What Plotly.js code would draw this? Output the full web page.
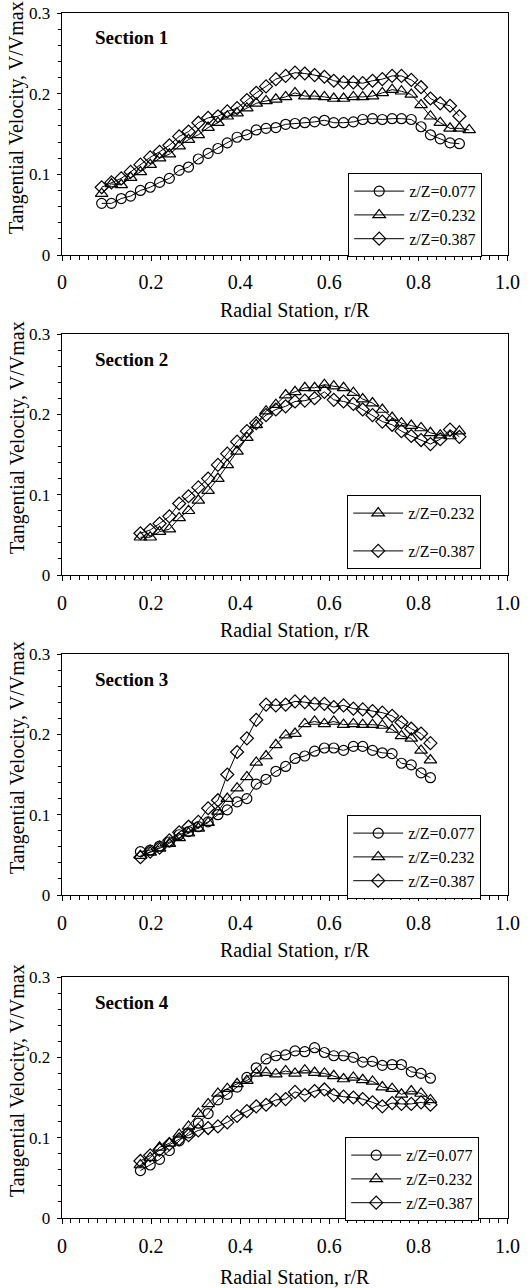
<!DOCTYPE html>
<html>
<head>
<meta charset="utf-8">
<script src="https://cdn.plot.ly/plotly-3.0.1.min.js"></script>
<style>html,body{margin:0;padding:0;background:#fff;}#chart{width:531px;height:1288px;}</style>
</head>
<body>
<div id="chart"></div>
<script>
// ---- data ----
const seriesNames = ["z/Z=0.077", "z/Z=0.232", "z/Z=0.387"];
const sectionLabels = ["Section 1", "Section 2", "Section 3", "Section 4"];
const xTickVals = [0, 0.2, 0.4, 0.6, 0.8, 1.0];
const xTickText = ["0", "0.2", "0.4", "0.6", "0.8", "1.0"];
const yTickVals = [0, 0.1, 0.2, 0.3];
const yTickText = ["0", "0.1", "0.2", "0.3"];

// radial stations r/R
const r_s1 = [0.089, 0.111, 0.133, 0.154, 0.176, 0.198, 0.219, 0.241, 0.263, 0.284, 0.306, 0.328, 0.350, 0.371, 0.393, 0.415, 0.436, 0.458, 0.480, 0.502, 0.523, 0.545, 0.567, 0.589, 0.610, 0.632, 0.654, 0.675, 0.697, 0.719, 0.741, 0.762, 0.784, 0.806, 0.827, 0.849, 0.871, 0.892, 0.914];
const r_s2 = [0.176, 0.198, 0.219, 0.241, 0.263, 0.284, 0.306, 0.328, 0.350, 0.371, 0.393, 0.415, 0.436, 0.458, 0.480, 0.502, 0.523, 0.545, 0.567, 0.589, 0.610, 0.632, 0.654, 0.675, 0.697, 0.719, 0.741, 0.762, 0.784, 0.806, 0.827, 0.849, 0.871, 0.892];
const r_s34 = [0.176, 0.198, 0.219, 0.241, 0.263, 0.284, 0.306, 0.328, 0.350, 0.371, 0.393, 0.415, 0.436, 0.458, 0.480, 0.502, 0.523, 0.545, 0.567, 0.589, 0.610, 0.632, 0.654, 0.675, 0.697, 0.719, 0.741, 0.762, 0.784, 0.806, 0.827];

// Section 1
const s1_z077 = [0.064, 0.064, 0.070, 0.073, 0.080, 0.084, 0.090, 0.095, 0.105, 0.109, 0.119, 0.126, 0.132, 0.139, 0.146, 0.149, 0.155, 0.157, 0.158, 0.162, 0.163, 0.164, 0.165, 0.167, 0.164, 0.164, 0.165, 0.168, 0.169, 0.168, 0.169, 0.169, 0.168, 0.159, 0.149, 0.144, 0.139, 0.138];
const s1_z232 = [0.076, 0.088, 0.087, 0.096, 0.103, 0.112, 0.120, 0.125, 0.135, 0.143, 0.149, 0.158, 0.164, 0.172, 0.176, 0.182, 0.188, 0.191, 0.193, 0.196, 0.201, 0.197, 0.197, 0.196, 0.194, 0.194, 0.196, 0.196, 0.197, 0.201, 0.205, 0.203, 0.199, 0.186, 0.172, 0.164, 0.157, 0.157, 0.155];
const s1_z387 = [0.084, 0.090, 0.095, 0.103, 0.112, 0.121, 0.128, 0.136, 0.147, 0.153, 0.164, 0.170, 0.172, 0.178, 0.182, 0.192, 0.201, 0.209, 0.218, 0.222, 0.226, 0.225, 0.223, 0.221, 0.216, 0.214, 0.214, 0.213, 0.216, 0.218, 0.222, 0.222, 0.217, 0.208, 0.194, 0.188, 0.185, 0.172];

// Section 2
const s2_z232 = [0.047, 0.047, 0.054, 0.057, 0.071, 0.080, 0.093, 0.105, 0.120, 0.137, 0.154, 0.171, 0.187, 0.204, 0.212, 0.224, 0.228, 0.233, 0.233, 0.237, 0.235, 0.233, 0.227, 0.219, 0.214, 0.206, 0.196, 0.189, 0.186, 0.183, 0.177, 0.174, 0.173, 0.179];
const s2_z387 = [0.052, 0.056, 0.064, 0.073, 0.089, 0.098, 0.109, 0.120, 0.137, 0.151, 0.166, 0.179, 0.189, 0.199, 0.206, 0.210, 0.216, 0.217, 0.220, 0.228, 0.218, 0.216, 0.213, 0.206, 0.199, 0.191, 0.187, 0.179, 0.173, 0.168, 0.163, 0.169, 0.181, 0.172];

// Section 3
const s3_z077 = [0.054, 0.056, 0.061, 0.066, 0.075, 0.079, 0.085, 0.091, 0.100, 0.106, 0.116, 0.120, 0.138, 0.144, 0.154, 0.160, 0.170, 0.173, 0.179, 0.183, 0.183, 0.180, 0.185, 0.185, 0.180, 0.177, 0.176, 0.164, 0.162, 0.152, 0.146];
const s3_z232 = [0.049, 0.053, 0.058, 0.064, 0.071, 0.077, 0.083, 0.090, 0.104, 0.120, 0.133, 0.147, 0.165, 0.173, 0.187, 0.199, 0.201, 0.213, 0.216, 0.213, 0.216, 0.212, 0.213, 0.212, 0.212, 0.211, 0.206, 0.198, 0.195, 0.180, 0.168];
const s3_z387 = [0.047, 0.054, 0.059, 0.068, 0.078, 0.085, 0.091, 0.108, 0.118, 0.150, 0.178, 0.195, 0.218, 0.237, 0.236, 0.237, 0.241, 0.240, 0.238, 0.238, 0.234, 0.236, 0.232, 0.231, 0.229, 0.227, 0.223, 0.215, 0.207, 0.201, 0.189];

// Section 4
const s4_z077 = [0.059, 0.066, 0.073, 0.084, 0.096, 0.106, 0.118, 0.130, 0.147, 0.154, 0.163, 0.175, 0.187, 0.198, 0.202, 0.203, 0.208, 0.207, 0.212, 0.206, 0.202, 0.202, 0.200, 0.194, 0.195, 0.190, 0.191, 0.191, 0.182, 0.180, 0.174];
const s4_z232 = [0.066, 0.075, 0.088, 0.093, 0.104, 0.114, 0.130, 0.142, 0.155, 0.161, 0.167, 0.171, 0.180, 0.181, 0.179, 0.183, 0.180, 0.184, 0.181, 0.180, 0.177, 0.173, 0.175, 0.172, 0.170, 0.163, 0.161, 0.154, 0.158, 0.155, 0.147];
const s4_z387 = [0.071, 0.078, 0.085, 0.092, 0.098, 0.103, 0.109, 0.112, 0.114, 0.119, 0.127, 0.133, 0.139, 0.141, 0.147, 0.148, 0.157, 0.153, 0.158, 0.160, 0.153, 0.151, 0.150, 0.148, 0.144, 0.139, 0.143, 0.142, 0.142, 0.144, 0.141];

// ---- layout geometry (pixels in a 531 x 1288 page) ----
const W = 531, H = 1288;
const FONT = '"Liberation Serif", "Times New Roman", Times, serif';
const plotLeft = 62, plotRight = 507.5;
const panels = [
  {top: 13,  bottom: 255,  xStand: 4, legTop: 173,  legLeft: 348, gap: 0},
  {top: 334, bottom: 575,  xStand: 5, legTop: 495,  legLeft: 347, gap: 14},
  {top: 654, bottom: 895,  xStand: 5, legTop: 815,  legLeft: 347, gap: 0},
  {top: 977, bottom: 1218, xStand: 5, legTop: 1137, legLeft: 345, gap: 0}
];
const symbols = ["circle-open", "triangle-up-open", "diamond-open"];
const sizes = [10, 11, 10];

const sectionData = [
  [{x: r_s1, y: s1_z077, k: 0}, {x: r_s1, y: s1_z232, k: 1}, {x: r_s1, y: s1_z387, k: 2}],
  [{x: r_s2, y: s2_z232, k: 1}, {x: r_s2, y: s2_z387, k: 2}],
  [{x: r_s34, y: s3_z077, k: 0}, {x: r_s34, y: s3_z232, k: 1}, {x: r_s34, y: s3_z387, k: 2}],
  [{x: r_s34, y: s4_z077, k: 0}, {x: r_s34, y: s4_z232, k: 1}, {x: r_s34, y: s4_z387, k: 2}]
];

const traces = [];
const layout = {
  width: W, height: H,
  margin: {l: 0, r: 0, t: 0, b: 0},
  paper_bgcolor: "#fff", plot_bgcolor: "#fff",
  font: {family: FONT, color: "#000"},
  annotations: [],
  showlegend: true
};

panels.forEach((p, i) => {
  const n = i + 1;
  const xa = "xaxis" + (n === 1 ? "" : n), ya = "yaxis" + (n === 1 ? "" : n);
  const xr = "x" + (n === 1 ? "" : n), yr = "y" + (n === 1 ? "" : n);
  const leg = "legend" + (n === 1 ? "" : n);
  sectionData[i].forEach(s => {
    traces.push({
      type: "scatter", mode: "lines+markers",
      x: s.x.slice(0, s.y.length), y: s.y,
      xaxis: xr, yaxis: yr, legend: leg,
      legendgroup: "g" + n + "_" + s.k,
      name: seriesNames[s.k],
      line: {color: "#000", width: 1},
      marker: {symbol: symbols[s.k], size: sizes[s.k], color: "#000", line: {color: "#000", width: 1.2}},
      hoverinfo: "skip"
    });
  });
  layout[xa] = {
    domain: [plotLeft / W, plotRight / W], anchor: yr,
    range: [0, 1], fixedrange: true,
    tickvals: xTickVals, ticktext: xTickText,
    ticks: "outside", ticklen: 5, tickwidth: 1, tickcolor: "#000",
    ticklabelstandoff: p.xStand,
    minor: {dtick: 0.02, ticks: "outside", ticklen: 4, tickcolor: "#000", tickwidth: 1},
    showgrid: false, zeroline: false,
    showline: true, linecolor: "#000", linewidth: 1.3, mirror: true,
    tickfont: {family: FONT, size: 20, color: "#000"}
  };
  layout[ya] = {
    domain: [1 - p.bottom / H, 1 - p.top / H], anchor: xr,
    range: [0, 0.3], fixedrange: true,
    tickvals: yTickVals, ticktext: yTickText,
    ticks: "outside", ticklen: 4, tickwidth: 1, tickcolor: "#000",
    ticklabelstandoff: 3,
    minor: {dtick: 0.02, ticks: "outside", ticklen: 3, tickcolor: "#000", tickwidth: 1},
    showgrid: false, zeroline: false,
    showline: true, linecolor: "#000", linewidth: 1.3, mirror: true,
    tickfont: {family: FONT, size: 17, color: "#000"}
  };
  layout[leg] = {
    x: p.legLeft / W, y: 1 - p.legTop / H, xanchor: "left", yanchor: "top",
    xref: "paper", yref: "paper",
    bgcolor: "#fff", bordercolor: "#000", borderwidth: 1.2,
    font: {family: FONT, size: 16, color: "#000"},
    itemwidth: 50, traceorder: "grouped", tracegroupgap: p.gap
  };
  // section label
  layout.annotations.push({
    xref: "paper", yref: "paper", x: 93 / W, y: 1 - (p.top + 25) / H,
    xanchor: "left", yanchor: "middle", showarrow: false,
    text: "<b>" + sectionLabels[i] + "</b>",
    font: {family: FONT, size: 19, color: "#000"}
  });
  // y title
  layout.annotations.push({
    xref: "paper", yref: "paper", x: 17 / W, y: 1 - (p.bottom - 137) / H,
    xanchor: "center", yanchor: "middle", showarrow: false, textangle: -90,
    text: "Tangential Velocity, V/Vmax",
    font: {family: FONT, size: 20, color: "#000"}
  });
  // x title
  layout.annotations.push({
    xref: "paper", yref: "paper", x: 295 / W, y: 1 - (p.bottom + 55 + (i === 3 ? 4 : 0)) / H,
    xanchor: "center", yanchor: "middle", showarrow: false,
    text: "Radial Station, r/R",
    font: {family: FONT, size: 20, color: "#000"}
  });
});

Plotly.newPlot("chart", traces, layout, {staticPlot: true, displayModeBar: false});
</script>
</body>
</html>
